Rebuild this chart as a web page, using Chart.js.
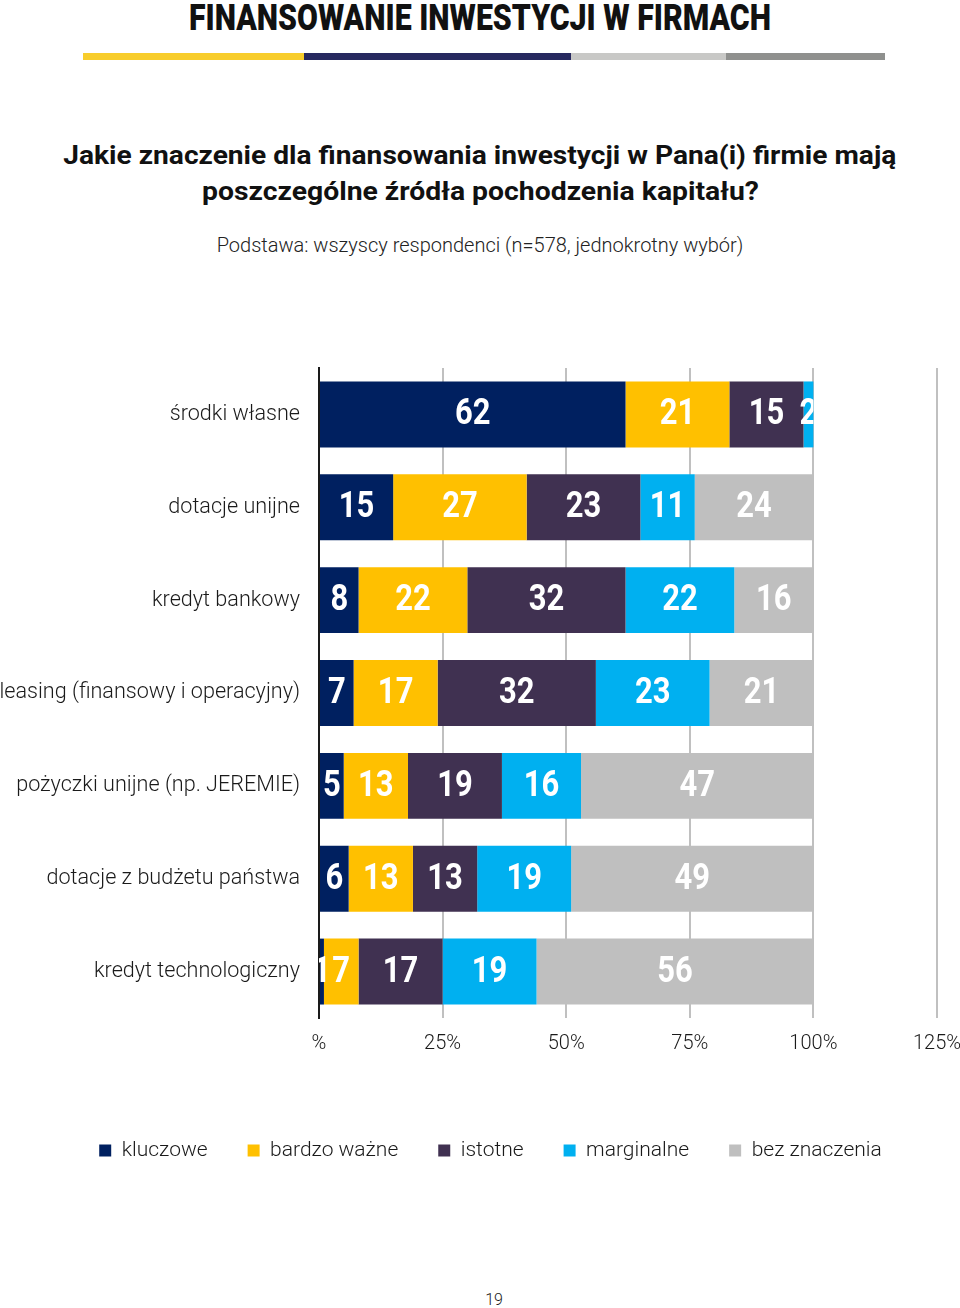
<!DOCTYPE html>
<html lang="pl">
<head>
<meta charset="utf-8">
<script src="https://cdn.jsdelivr.net/npm/chart.js@4.4.1/dist/chart.umd.min.js"></script>
<style>
  html, body { margin: 0; padding: 0; background: #fff; }
  body { width: 960px; height: 1308px; position: relative; overflow: hidden; font-family: Roboto, sans-serif; color: #1a1a1a; }
  .line { position: absolute; left: 0; width: 960px; text-align: center; white-space: nowrap; }
  .line span { display: inline-block; transform-origin: center; }
  .head { top: 0; font-weight: 900; font-size: 36px; line-height: 36px; color: #111; }
  .q { font-weight: 700; font-size: 26px; line-height: 36px; color: #111; }
  .base { top: 233px; font-weight: 300; font-size: 20px; line-height: 24px; color: #222; }
  .stripe { position: absolute; top: 53px; height: 7px; }
  .chart { position: absolute; left: 0; top: 360px; width: 960px; height: 820px; }
  .page { position: absolute; top: 1290px; left: 0; width: 988px; text-align: center; font-size: 16px; font-weight: 300; }
</style>
</head>
<body>
<div class="line head"><span data-w="582">FINANSOWANIE INWESTYCJI W FIRMACH</span></div>
<div class="stripe" style="left:83px;width:221px;background:#f8cd2c"></div>
<div class="stripe" style="left:304px;width:267px;background:#27295f"></div>
<div class="stripe" style="left:571px;width:155px;background:#c8c8c6"></div>
<div class="stripe" style="left:726px;width:159px;background:#8f908e"></div>
<div class="line q" style="top:137px"><span data-w="833">Jakie znaczenie dla finansowania inwestycji w Pana(i) firmie mają</span></div>
<div class="line q" style="top:173px"><span data-w="557">poszczególne źródła pochodzenia kapitału?</span></div>
<div class="line base"><span>Podstawa: wszyscy respondenci (n=578, jednokrotny wybór)</span></div>
<div class="chart"><canvas id="c"></canvas></div>
<div class="page">19</div>
<script>
// Rows (sources of capital)
const categories = [
  "środki własne",
  "dotacje unijne",
  "kredyt bankowy",
  "leasing (finansowy i operacyjny)",
  "pożyczki unijne (np. JEREMIE)",
  "dotacje z budżetu państwa",
  "kredyt technologiczny"
];

// Series, % of answers
const kluczowe     = [62, 15,  8,  7,  5,  6,  1];
const bardzoWazne  = [21, 27, 22, 17, 13, 13,  7];
const istotne      = [15, 23, 32, 32, 19, 13, 17];
const marginalne   = [ 2, 11, 22, 23, 16, 19, 19];
const bezZnaczenia = [ 0, 24, 16, 21, 47, 49, 56];

const xTicks = [0, 25, 50, 75, 100, 125];

const seriesNames = ["kluczowe", "bardzo ważne", "istotne", "marginalne", "bez znaczenia"];
const colors = ["#002060", "#ffc000", "#403151", "#00b0f0", "#bfbfbf"];
const series = [kluczowe, bardzoWazne, istotne, marginalne, bezZnaczenia];

// squeeze the heading lines to the condensed look of the original
document.querySelectorAll("[data-w]").forEach(el => {
  const w = el.getBoundingClientRect().width;
  el.style.transform = "scaleX(" + (+el.dataset.w / w) + ")";
});

// white numbers in the middle of each segment
const valueLabels = {
  id: "valueLabels",
  afterDatasetsDraw(chart) {
    const { ctx, chartArea, scales } = chart;
    const right = scales.x.getPixelForValue(100);
    ctx.save();
    ctx.beginPath();
    ctx.rect(chartArea.left, chartArea.top, right - chartArea.left, chartArea.bottom - chartArea.top);
    ctx.clip();
    ctx.font = "bold 36px Roboto";
    ctx.fillStyle = "#fff";
    ctx.textAlign = "center";
    ctx.textBaseline = "middle";
    chart.data.datasets.forEach((ds, di) => {
      chart.getDatasetMeta(di).data.forEach((bar, i) => {
        const v = ds.data[i];
        if (!v) return;
        ctx.save();
        ctx.translate((bar.x + bar.base) / 2, bar.y + 1);
        ctx.scale(0.86, 1);
        ctx.fillText(String(v), 0, 0);
        ctx.restore();
      });
    });
    ctx.restore();
  }
};

// legend sits a bit right of the canvas centre in the original
const legendShift = {
  id: "legendShift",
  afterLayout(chart) {
    chart.legend.left += 22;
    chart.legend.right += 22;
  }
};

new Chart(document.getElementById("c"), {
  type: "bar",
  data: {
    labels: categories,
    datasets: series.map((d, k) => ({
      label: seriesNames[k],
      data: d,
      backgroundColor: colors[k],
      borderWidth: 0,
      barPercentage: 0.71,
      categoryPercentage: 1
    }))
  },
  options: {
    indexAxis: "y",
    responsive: true,
    maintainAspectRatio: false,
    animation: false,
    layout: { padding: { top: 8, right: 23, bottom: 9 } },
    scales: {
      x: {
        stacked: true,
        min: 0,
        max: 125,
        afterBuildTicks(scale) { scale.ticks = xTicks.map(v => ({ value: v })); },
        afterFit(scale) {
          scale.height = 82;
          scale.paddingLeft = 0;
          scale.paddingRight = 0;
        },
        grid: { color: "#c0c0c0", lineWidth: 2, drawTicks: false },
        border: { display: false },
        ticks: {
          padding: 14,
          color: "#1a1a1a",
          font: { family: "Roboto", size: 20, weight: 300 },
          callback: v => (v === 0 ? "%" : v + "%")
        }
      },
      y: {
        stacked: true,
        afterFit(scale) {
          scale.width = 319;
          scale.paddingTop = 0;
          scale.paddingBottom = 0;
        },
        grid: { display: false, drawTicks: false },
        border: { color: "#1a1a1a", width: 2 },
        ticks: {
          padding: 19,
          color: "#1a1a1a",
          font: { family: "Roboto", size: 21.6, weight: 300 }
        }
      }
    },
    plugins: {
      legend: {
        position: "bottom",
        labels: {
          boxWidth: 12,
          boxHeight: 12,
          padding: 40,
          color: "#1a1a1a",
          font: { family: "Roboto", size: 21, weight: 300 }
        }
      },
      tooltip: { enabled: false }
    }
  },
  plugins: [valueLabels, legendShift]
});
</script>
</body>
</html>
